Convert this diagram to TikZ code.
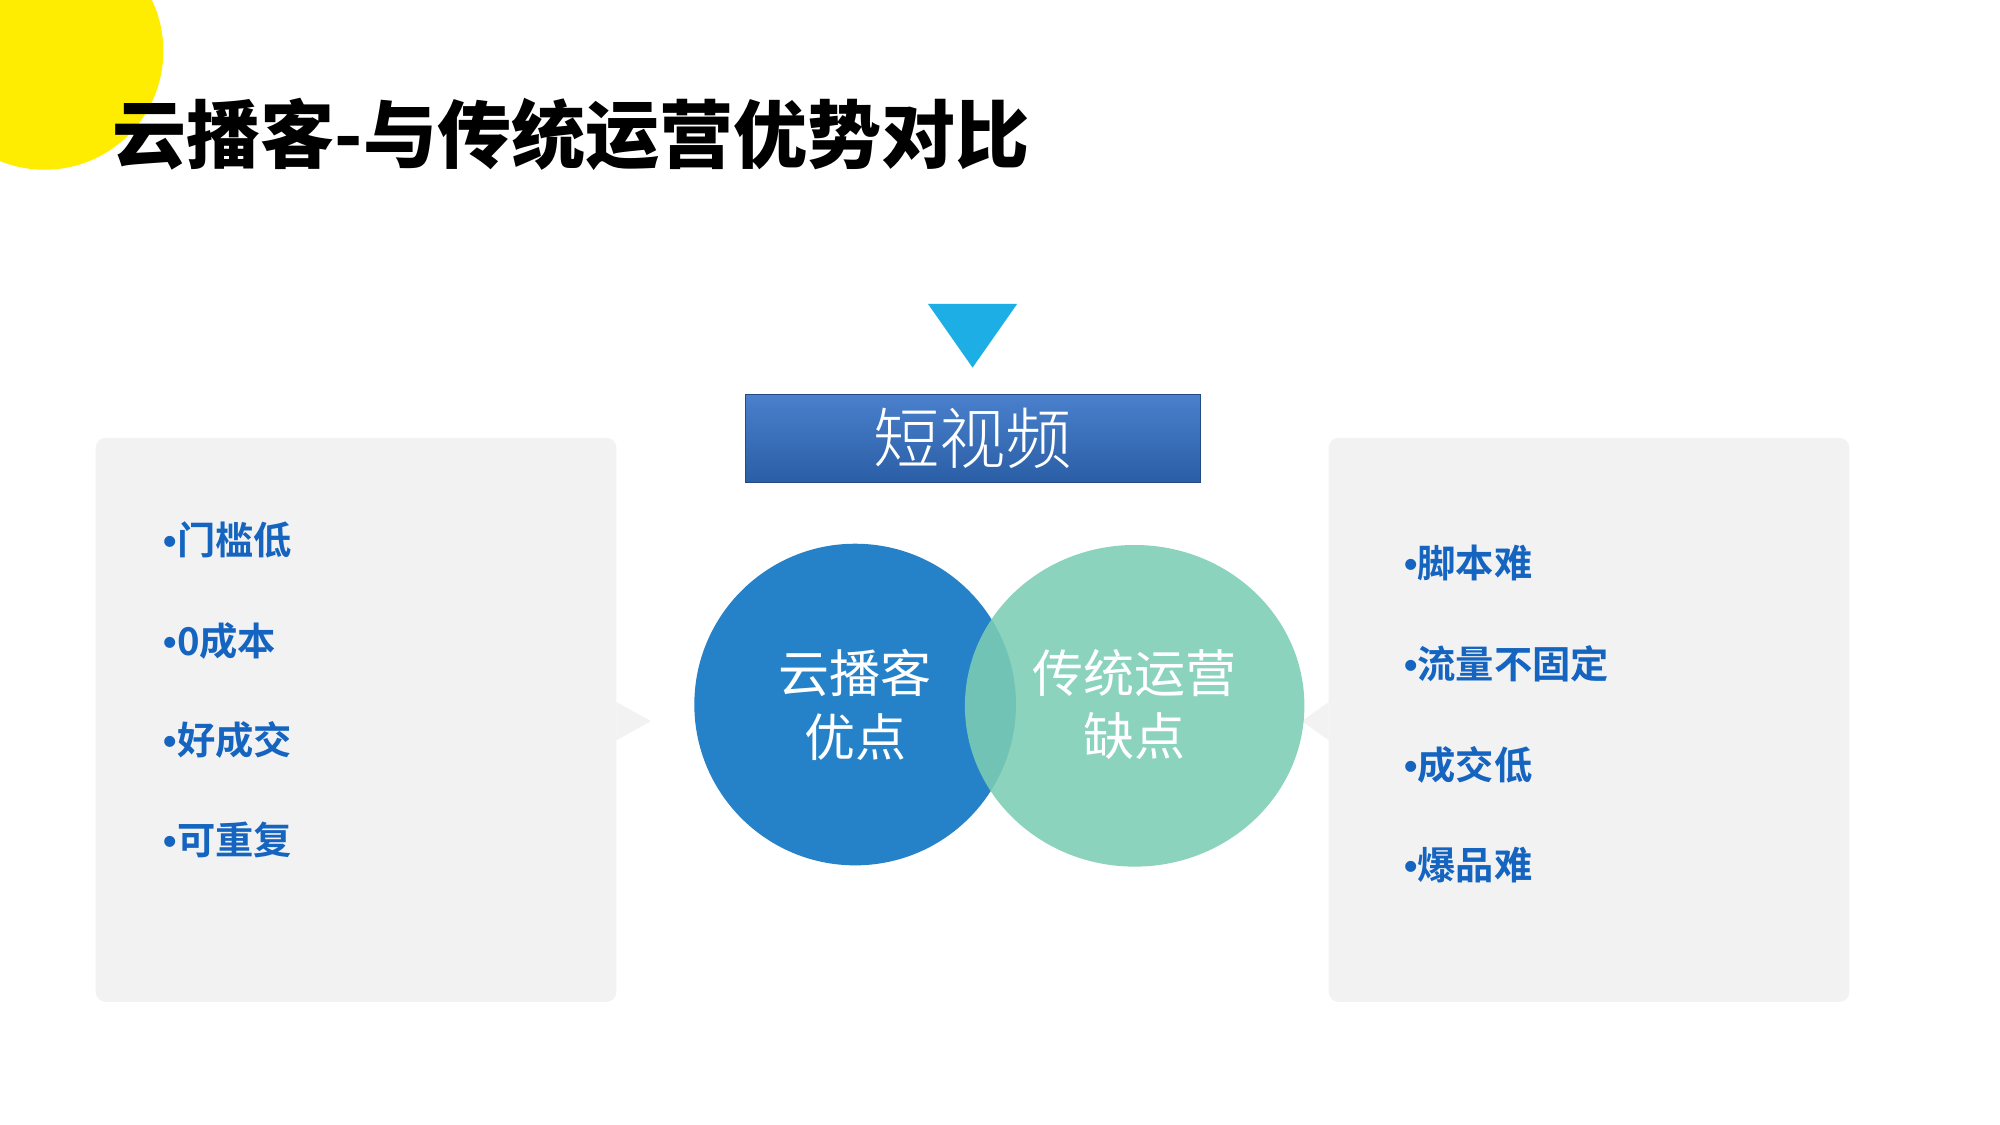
\documentclass[tikz,border=0pt]{standalone}
\usepackage{fontspec}
\setmainfont{Noto Sans CJK SC}
\newfontfamily\cjkb{Noto Sans CJK SC Bold}
\newfontfamily\cjkh{Noto Sans CJK SC Black}
\newfontfamily\cjkl{Noto Sans CJK SC Light}
\newfontfamily\latb{Liberation Sans Bold}
\newcommand{\bul}{{\latb •}}
\begin{document}
\begin{tikzpicture}[x=1pt,y=-1pt,
  panel/.style={fill=panelgray,draw=none},
  item/.style={anchor=west,font=\cjkb\fontsize{30}{36}\selectfont,text=itemblue,inner sep=0},
  ctext/.style={align=center,text=white,font=\fontsize{40}{50}\selectfont,inner sep=0}]
\definecolor{panelgray}{HTML}{F2F2F2}
\definecolor{itemblue}{HTML}{1565C0}
\definecolor{triblue}{HTML}{1EAEE6}
\definecolor{cblue}{HTML}{2682C8}
\definecolor{cgreen}{HTML}{7CCDB4}
\definecolor{boxtop}{HTML}{4A80CC}
\definecolor{boxbot}{HTML}{2A5EA6}
\useasboundingbox (0,0) rectangle (1567,881);
\fill[white] (0,0) rectangle (1567,881);
\begin{scope}
\clip (0,0) rectangle (1567,881);
\fill[yellow!95!orange] (35,40) circle (93);
\end{scope}
\node[anchor=west,inner sep=0,font=\cjkh\fontsize{58}{62}\selectfont] (title) at (88,105) {云播客-与传统运营优势对比};
\fill[triblue] (727,238) -- (797,238) -- (762,288) -- cycle;
\node[minimum width=356,minimum height=69,inner sep=0,top color=boxtop,bottom color=boxbot,
  draw=boxbot!80!black, text=white,font=\cjkl\fontsize{52}{56}\selectfont] (sv) at (762,343.5) {短视频};
% panels
\fill[panel,rounded corners=8] (75,343) rectangle (483,785);
\fill[panel] (483,550) -- (510,565) -- (483,580) -- cycle;
\fill[panel,rounded corners=8] (1041,343) rectangle (1449,785);
\fill[panel] (1041,550) -- (1020,565) -- (1041,580) -- cycle;
% circles
\fill[cblue] (670,552) ellipse (126 and 126);
\fill[cgreen,opacity=0.88] (889,553) ellipse (133 and 126);
\node[ctext] (a) at (670,552) {云播客\\优点};
\node[ctext] (b) at (889,552) {传统运营\\缺点};
% lists
\node[item] (l1) at (128,423) {\bul 门槛低};
\node[item] (l2) at (128,502) {\bul 0成本};
\node[item] (l3) at (128,580) {\bul 好成交};
\node[item] (l4) at (128,658) {\bul 可重复};
\node[item] (r1) at (1100,441) {\bul 脚本难};
\node[item] (r2) at (1100,520) {\bul 流量不固定};
\node[item] (r3) at (1100,599) {\bul 成交低};
\node[item] (r4) at (1100,678) {\bul 爆品难};
\end{tikzpicture}
\end{document}
